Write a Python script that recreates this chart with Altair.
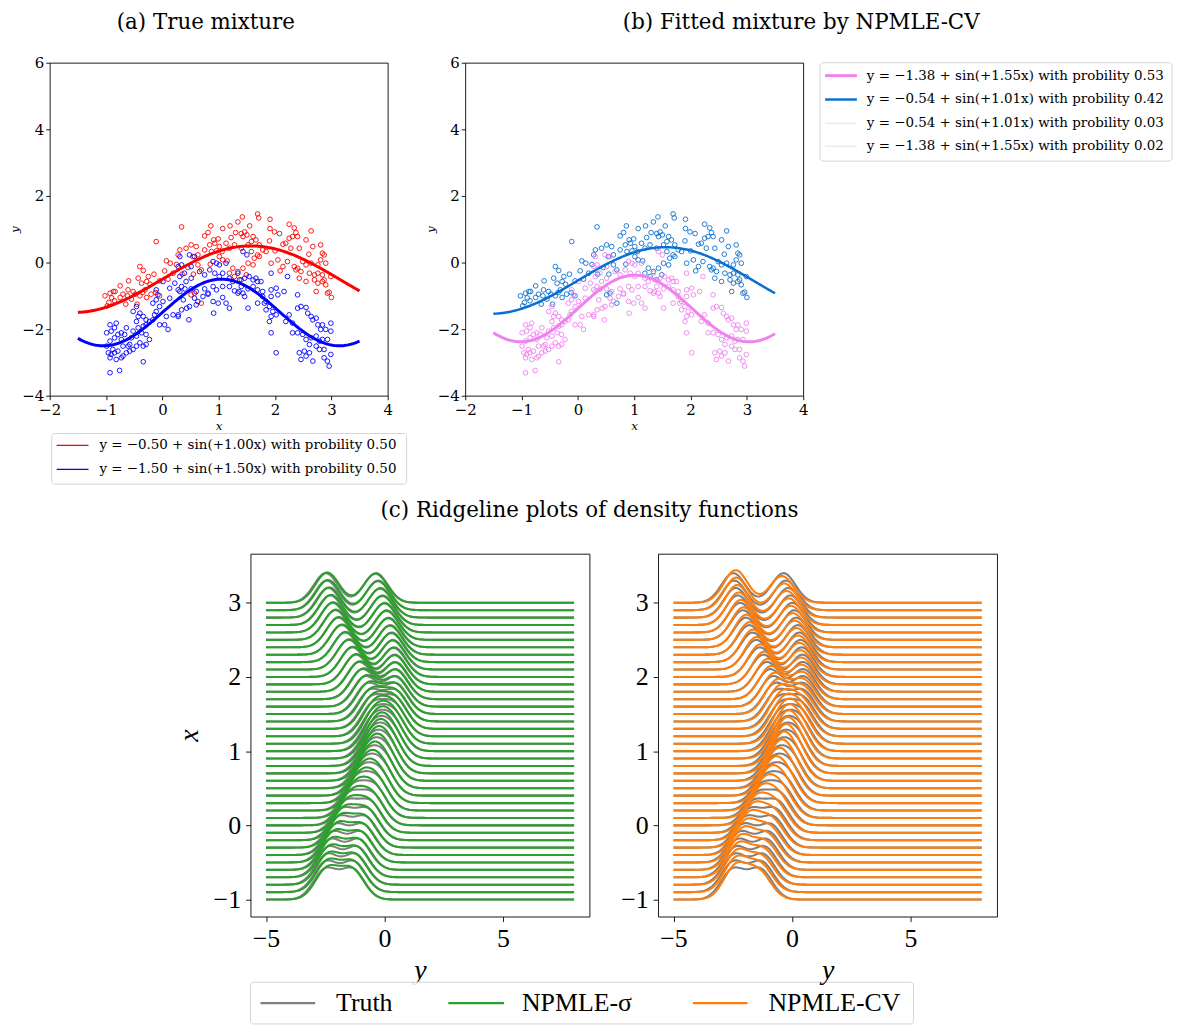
import numpy as np
import pandas as pd
import altair as alt

# ---------------- data ----------------
red_x = [0.34, -0.11, 0.31, 0.28, 0.07, 0.14, -0.40, -0.34, 0.04, -0.43, -0.25, -0.37, -0.28, -0.22, -0.87,
         -0.61, -0.52, -0.31, 0.19, 0.25, 1.69, 1.71, 0.86, 1.07, 1.42, 1.34, 0.75, 0.81, 0.91, 0.99,
         1.22, 1.30, 1.40, 1.46, 1.43, 1.50, 1.61, 1.66, 1.58, 0.51, 0.60, 0.42, 0.84, 0.93, 1.01,
         1.13, 0.75, 0.87, 0.96, 1.06, 1.19, 1.28, 1.40, 1.52, 0.54, 0.63, 1.58, 1.69, 1.63, 1.52,
         1.61, 1.43, 1.25, 1.34, 1.19, 0.63, 0.69, 1.28, 1.40, 1.49, 1.01, 1.07, 1.91, 1.91, 1.99,
         2.08, 2.34, 2.37, 2.31, 2.25, 2.40, 2.64, 2.14, 2.19, 2.28, 2.43, 2.55, 2.67, 2.81, 2.84,
         2.87, 1.72, 1.78, 1.84, 1.72, 1.93, 2.05, 2.14, 2.22, 2.34, 2.40, 2.49, 2.55, 2.64, 2.76,
         2.81, 2.90, 2.09, 2.37, 2.46, 2.61, 2.70, 2.76, 2.84, 2.87, 2.99, 2.84, 2.90, 2.70, 2.76,
         2.55, 2.43, 2.96, 0.51, 0.57, 0.69, 2.73, 2.93, 3.00, -0.90, -0.93, -0.84, -1.02, -0.95,
         -0.98, -0.85, -0.75, -0.70, -0.62, -0.55, -0.48, -0.40, -0.35, -0.28, -0.20, -0.12, -0.05,
         -0.65, -0.45, -0.15, -0.05, 0.10, -0.60, -0.75, 0.45, 0.35, 0.55, 0.85, 1.15, 1.90, 2.00,
         2.60, 2.25, 1.55, 1.20]
red_y = [1.07, 0.63, 0.38, 0.23, 0.05, -0.02, -0.12, -0.24, -0.25, -0.47, -0.42, -0.62, -0.57, -0.65, -0.87,
         -0.82, -0.87, -0.82, -0.32, -0.06, 1.46, 1.34, 1.10, 1.02, 1.37, 1.22, 0.80, 0.90, 0.68, 0.71,
         0.75, 0.90, 0.87, 0.92, 0.78, 0.83, 0.78, 0.68, 0.63, 0.53, 0.48, 0.43, 0.53, 0.58, 0.48,
         0.58, 0.38, 0.33, 0.35, 0.33, 0.43, 0.53, 0.43, 0.53, 0.18, 0.23, 0.33, 0.23, 0.13, -0.02,
         -0.07, -0.17, -0.17, -0.27, -0.32, -0.07, -0.22, -0.42, -0.52, -0.37, 0.18, 0.08, 1.30, 1.02, 0.92,
         0.87, 1.04, 0.90, 0.78, 0.73, 0.78, 0.95, 0.55, 0.58, 0.43, 0.43, 0.68, 0.48, 0.53, 0.28,
         0.23, 0.53, 0.38, 0.33, 0.18, -0.02, 0.08, -0.12, 0.03, -0.12, -0.17, 0.03, -0.07, -0.02, -0.07,
         0.08, -0.02, -0.25, -0.22, -0.27, -0.32, -0.37, -0.32, -0.37, -0.52, -0.42, -0.57, -0.67, -0.52, -0.62,
         -0.57, -0.47, -0.89, -0.97, -0.92, -1.22, -0.87, -0.92, -1.05, -1.06, -0.92, -0.87, -1.00, -1.20,
         -1.30, -1.15, -1.05, -0.95, -1.00, -1.10, -0.95, -1.00, -0.90, -1.05, -0.95, -0.90, -1.00,
         -1.25, -1.25, -0.35, -0.55, -0.50, -0.55, -0.70, -0.15, -0.35, -0.35, -0.05, 0.05, 0.65, 0.35,
         0.25, 1.15, 1.10, 1.10]

blue_x = [0.01, 0.22, 0.28, -0.11, 0.13, 0.31, 0.34, 0.48, 0.57, 0.90, 0.96, 0.51, 0.66, 0.75, 0.28,
          1.01, 1.13, 1.43, 1.50, 0.31, 0.39, 0.42, 0.51, 0.84, 0.93, 1.01, 1.07, 1.19, 1.25, 1.34,
          1.37, 1.46, 1.54, 1.61, 1.66, 1.69, 0.34, 0.40, 0.31, 0.51, 0.60, 0.75, 0.81, 0.90, 0.96,
          1.07, 1.19, 1.28, 1.40, 1.36, 1.52, 1.61, 1.69, 1.75, 1.93, 1.78, 1.93, 2.02, 2.16, 2.22,
          2.40, -0.93, -0.76, -0.34, -0.96, -0.91, -0.85, -0.93, -0.82, -0.73, -0.70, -0.79, -0.88, -0.64,
          -0.58, -0.93, -0.85, -0.79, -0.73, -0.91, -0.85, -0.82, -0.93, -0.73, -0.70, -0.61, -0.58, -0.52,
          -0.46, -0.40, -0.34, -0.29, -0.23, -0.29, -0.37, -0.46, -0.52, -0.55, -0.43, -0.34, -0.29, -0.23,
          -0.17, -0.14, -0.11, -0.29, -0.34, -0.43, -0.46, -0.05, 0.04, 0.10, 0.19, 0.28, 0.07, -0.05,
          0.01, 0.13, -0.08, -0.17, -0.11, -0.46, -0.52, -0.40, -0.64, -0.67, -0.99, -0.99, 0.28, 0.34,
          0.43, 0.48, 0.37, 0.47, 0.60, 0.63, 0.57, 0.72, 0.81, 0.90, 0.99, 1.07, 1.13, 1.19, 0.91,
          1.34, 1.43, 1.46, 1.52, 1.78, 1.93, 2.05, 1.81, 1.90, 1.84, 1.96, 2.02, 1.93, 1.90, 2.19,
          2.31, 2.25, 2.40, 2.46, 2.55, 2.58, 2.64, 2.67, 2.73, 2.76, 2.84, 2.81, 2.90, 2.99, 1.93,
          2.31, 2.40, 2.49, 2.55, 2.64, 2.73, 2.79, 2.84, 2.93, 2.61, 2.73, 2.79, 2.87, 2.99, 2.43,
          2.52, 2.61, 2.46, 2.55, 2.67, 2.87, 2.93, 2.96, 2.02, 2.99, 1.84, 1.69]
blue_y = [-0.57, -0.62, -0.82, -0.82, -0.77, 0.18, -0.07, 0.23, 0.18, 0.03, -0.02, -0.12, -0.27, -0.37, -0.12,
          -0.07, -0.02, 0.33, 0.23, -0.42, -0.32, -0.57, -0.47, -0.22, -0.32, -0.42, -0.32, -0.47, -0.57, -0.32,
          -0.52, -0.47, -0.42, -0.52, -0.47, -0.57, -0.72, -0.79, -0.87, -0.79, -0.87, -0.79, -0.92, -0.72, -0.82,
          -0.72, -0.72, -0.85, -0.72, -0.87, -0.79, -0.72, -0.82, -0.57, -0.32, -0.87, -0.82, -0.77, -0.87, -0.42,
          -0.97, -3.31, -3.24, -2.98, -2.71, -2.76, -2.71, -2.86, -2.91, -2.86, -2.81, -2.66, -2.61, -2.71,
          -2.66, -2.36, -2.26, -2.16, -2.11, -2.06, -1.96, -1.82, -1.87, -2.31, -2.51, -2.51, -2.46, -2.61,
          -2.51, -2.41, -2.51, -2.46, -2.31, -2.16, -2.11, -2.21, -2.06, -2.26, -1.96, -1.91, -1.87, -1.77,
          -1.72, -1.57, -1.47, -1.72, -1.62, -1.62, -1.77, -1.87, -1.87, -2.01, -1.57, -1.62, -1.62, -1.32,
          -1.17, -1.07, -0.97, -1.22, -1.12, -1.32, -1.47, -1.52, -1.96, -2.16, -2.11, -2.51, -1.57, -1.42,
          -1.37, -1.32, -1.12, -1.72, -1.27, -1.17, -1.07, -1.02, -0.95, -1.17, -1.22, -1.05, -1.22, -1.37, -1.52,
          -0.92, -0.92, -1.02, -1.37, -1.02, -1.02, -0.97, -1.22, -1.32, -1.42, -1.47, -1.57, -1.62, -1.77, -1.77,
          -1.82, -1.57, -1.37, -1.32, -1.35, -1.52, -1.62, -1.72, -1.67, -1.87, -1.87, -2.01, -2.01, -1.82, -2.11,
          -2.11, -2.11, -2.16, -2.31, -2.26, -2.21, -2.36, -2.31, -2.31, -2.46, -2.51, -2.61, -2.61, -2.76, -2.71,
          -2.66, -2.71, -2.91, -2.81, -2.96, -2.86, -2.96, -3.11, -2.71, -2.06, -1.17, -1.22]

# true mixture (legend of panel a)
true_icpt = [-0.50, -1.50]
true_freq = [1.00, 1.50]
true_prob = [0.50, 0.50]
# fitted by NPMLE-CV (legend of panel b)
cv_icpt = [-1.38, -0.54, -0.54, -1.38]
cv_freq = [1.55, 1.01, 1.01, 1.55]
cv_prob = [0.53, 0.42, 0.03, 0.02]
# fitted by NPMLE-sigma (estimated from ridgelines)
sig_icpt = [-1.42, -0.52]
sig_freq = [1.53, 1.00]
sig_prob = [0.51, 0.49]
noise_sd = 0.5
ridge_levels = [round(-1 + 0.1 * i, 1) for i in range(41)]
curve_span = [-1.5, 3.5]
method_names = ["Truth", "NPMLE-σ", "NPMLE-CV"]

# ---------------- derived tables ----------------
TOPF = "DejaVu Serif"
CF = "Liberation Serif"
RED, BLUE = "#ff0000", "#0000ff"
FBLUE, VIOLET = "#0b6fd0", "#ee82ee"
GRAY, GREEN, ORANGE = "#808080", "#2ca02c", "#ff7f0e"

pts_red = pd.DataFrame({"x": red_x, "y": red_y})
pts_blue = pd.DataFrame({"x": blue_x, "y": blue_y})

xg = np.linspace(curve_span[0], curve_span[1], 201)
def curve_df(b, w):
    return pd.DataFrame({"x": xg, "y": b + np.sin(w * xg)})

ygrid = np.concatenate([[-5.0], np.round(np.arange(-4.6, 2.61, 0.05), 3), [8.0]])
def dens(level, b, w, p):
    d = np.zeros_like(ygrid)
    for bi, wi, pi in zip(b, w, p):
        mu = bi + np.sin(wi * level)
        d += pi * np.exp(-0.5 * ((ygrid - mu) / noise_sd) ** 2) / (noise_sd * np.sqrt(2 * np.pi))
    return d

params = {method_names[0]: (true_icpt, true_freq, true_prob),
          method_names[1]: (sig_icpt, sig_freq, sig_prob),
          method_names[2]: (cv_icpt, cv_freq, cv_prob)}
rows = []
for m, (b, w, p) in params.items():
    for lv in ridge_levels:
        h = lv + dens(lv, b, w, p)
        rows.append(pd.DataFrame({"method": m, "level": lv, "yv": ygrid, "h": np.round(h, 4)}))
ridge_df = pd.concat(rows, ignore_index=True)

one = pd.DataFrame({"a": [0]})

def fmt_label(b, w, p):
    sign = "−" if b < 0 else "+"
    return f"y = {sign}{abs(b):.2f} + sin(+{w:.2f}x) with probility {p:.2f}"

# ---------------- helpers ----------------
W_TOP, H_TOP = 340, 335
W_R, H_R = 341, 365
frame = alt.ViewBackground(stroke="black", strokeWidth=0.9, fill="white")

def axis_common(font, lsize, tsize, tick):
    return dict(grid=False, domain=False, ticks=True, tickSize=tick, tickColor="black", tickWidth=0.9,
                labelFont=font, labelFontSize=lsize, labelColor="black", labelFlush=False,
                titleFont=font, titleFontSize=tsize, titleFontStyle="italic", titleFontWeight="normal",
                titleColor="black")

top_xs = alt.Scale(domain=[-2, 4], nice=False, zero=False)
top_ys = alt.Scale(domain=[-4, 6], nice=False, zero=False)
def top_x():
    return alt.X("x:Q", scale=top_xs, axis=alt.Axis(values=[-2, -1, 0, 1, 2, 3, 4], format="d", title="x",
                 labelPadding=3, titlePadding=3, **axis_common(TOPF, 15, 12, 4)))
def top_y():
    return alt.Y("y:Q", scale=top_ys, axis=alt.Axis(values=[-4, -2, 0, 2, 4, 6], format="d", title="y",
                 labelPadding=2, titlePadding=0, **axis_common(TOPF, 15, 12, 4)))

def pts_layer(df, color):
    return alt.Chart(df).mark_point(shape="circle", filled=False, size=22, strokeWidth=0.9,
                                    color=color, opacity=1).encode(x=top_x(), y=top_y())

def line_layer(df, color, width, opacity=1.0):
    return alt.Chart(df).mark_line(color=color, strokeWidth=width, opacity=opacity,
                                   clip=True).encode(x=top_x(), y=top_y())

def text_at(x, y, txt, size, font, align="left", color="black", baseline="middle"):
    return alt.Chart(one).mark_text(align=align, baseline=baseline, font=font, fontSize=size,
                                    color=color).encode(
        x=alt.value(x), y=alt.value(y), text=alt.value(txt))

def box_at(x1, x2, y1, y2):
    return alt.Chart(one).mark_rect(fill="white", stroke="#d0d0d0", strokeWidth=1, cornerRadius=3,
                                    opacity=0.9).encode(
        x=alt.value(x1), x2=alt.value(x2), y=alt.value(y1), y2=alt.value(y2))

def seg_at(x1, x2, y, color, width, opacity=1.0):
    return alt.Chart(one).mark_rule(color=color, strokeWidth=width, opacity=opacity).encode(
        x=alt.value(x1), x2=alt.value(x2), y=alt.value(y))

# ---------------- panel (a) ----------------
la = [pts_layer(pts_red, RED), pts_layer(pts_blue, BLUE),
      line_layer(curve_df(true_icpt[0], true_freq[0]), RED, 3),
      line_layer(curve_df(true_icpt[1], true_freq[1]), BLUE, 3),
      text_at(157, -51, "(a) True mixture", 21.5, TOPF, align="center", baseline="top"),
      box_at(2, 359, 373, 424)]
for i, (c, yy) in enumerate(zip([RED, BLUE], [385, 409])):
    la.append(seg_at(7, 39, yy, c, 1.2))
    la.append(text_at(50, yy, fmt_label(true_icpt[i], true_freq[i], true_prob[i]), 13.5, TOPF))
panel_a = alt.layer(*la).properties(width=W_TOP, height=H_TOP, view=frame)

# ---------------- panel (b) ----------------
cv_colors = [VIOLET, FBLUE, "#e6d8c4", "#dcd0e6"]
cv_widths = [3, 2.5, 0.7, 0.7]
lb = [pts_layer(pts_red, FBLUE), pts_layer(pts_blue, VIOLET)]
for i in [3, 2, 1, 0]:
    lb.append(line_layer(curve_df(cv_icpt[i], cv_freq[i]), cv_colors[i], cv_widths[i]))
lb.append(text_at(338, -51, "(b) Fitted mixture by NPMLE-CV", 21.5, TOPF, align="center", baseline="top"))
lb.append(box_at(357, 711, 0, 99))
for i, yy in enumerate([13, 37, 61, 84]):
    lb.append(seg_at(362, 394, yy, cv_colors[i], cv_widths[i]))
    lb.append(text_at(404, yy, fmt_label(cv_icpt[i], cv_freq[i], cv_prob[i]), 13.5, TOPF))
panel_b = alt.layer(*lb).properties(width=W_TOP, height=H_TOP, view=frame)

# ---------------- ridgeline panels ----------------
r_xs = alt.Scale(domain=[-5.65, 8.65], nice=False, zero=False)
r_ys = alt.Scale(domain=[-1.23, 3.66], nice=False, zero=False)
def r_x():
    return alt.X("yv:Q", scale=r_xs, axis=alt.Axis(values=[-5, 0, 5], format="d", title="y",
                 labelPadding=4, titlePadding=5, **axis_common(CF, 26, 28, 5)))
def r_y(title):
    return alt.Y("h:Q", scale=r_ys, axis=alt.Axis(values=[-1, 0, 1, 2, 3], format="d", title=title,
                 labelPadding=5, titlePadding=10, **axis_common(CF, 26, 28, 5)))

def ridge_lines(method, color, title):
    d = ridge_df[ridge_df["method"] == method]
    return alt.Chart(d).mark_line(color=color, strokeWidth=2.1).encode(
        x=r_x(), y=r_y(title), detail="level:N")

LEG_Y = 452
lr = [ridge_lines(method_names[0], GRAY, "x"), ridge_lines(method_names[1], GREEN, "x"),
      text_at(341, -43, "(c) Ridgeline plots of density functions", 21.5, TOPF, align="center"),
      box_at(0, 667, 431, 473)]
leg_items = [(10, 65, 86, GRAY, method_names[0]), (199, 255, 273, GREEN, method_names[1]),
             (445, 500, 521, ORANGE, method_names[2])]
for x1, x2, xt, c, name in leg_items:
    lr.append(seg_at(x1, x2, LEG_Y, c, 2.2))
    lr.append(text_at(xt, LEG_Y, name, 26, CF))
ridge_left = alt.layer(*lr).properties(width=W_R, height=H_R, view=frame)

ridge_right = alt.layer(ridge_lines(method_names[0], GRAY, ""),
                        ridge_lines(method_names[2], ORANGE, "")).properties(
    width=W_R, height=H_R, view=frame)

spacer = alt.Chart(one).mark_point(opacity=0).encode(x=alt.value(0), y=alt.value(0)).properties(
    width=133, height=H_R, view=alt.ViewBackground(stroke="transparent", fill="transparent"))

top = alt.hconcat(panel_a, panel_b, spacing=78, bounds="flush")
bottom = alt.hconcat(spacer, ridge_left, ridge_right, spacing=69, bounds="flush")
chart = alt.vconcat(top, bottom, spacing=14, bounds="full").properties(
    padding=0, background="white")

chart.save("out.html", embed_options={"renderer": "svg", "actions": False})
